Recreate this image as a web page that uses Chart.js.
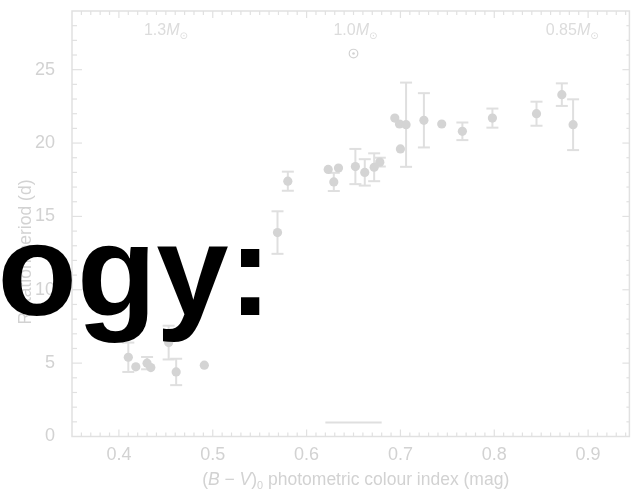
<!DOCTYPE html>
<html>
<head>
<meta charset="utf-8">
<script src="https://cdn.jsdelivr.net/npm/chart.js@4/dist/chart.umd.min.js"></script>
<style>
  html, body { margin: 0; padding: 0; background: #ffffff; }
  canvas { display: block; }
</style>
</head>
<body>
<canvas id="c" width="634" height="491"></canvas>
<script>
// (B - V)0 colour index of each star (mag)
const bvColour = [0.410, 0.418, 0.430, 0.434, 0.453, 0.461, 0.491, 0.569, 0.580,
                  0.623, 0.629, 0.634, 0.652, 0.662, 0.672, 0.678, 0.694, 0.699,
                  0.700, 0.706, 0.725, 0.744, 0.766, 0.798, 0.845, 0.872, 0.884];
// Rotation period of each star (days)
const rotationPeriod = [5.4, 4.75, 5.0, 4.7, 6.4, 4.4, 4.86, 13.9, 17.4,
                        18.2, 17.35, 18.3, 18.4, 18.0, 18.35, 18.7, 21.7, 21.3,
                        19.6, 21.25, 21.55, 21.3, 20.8, 21.7, 22.0, 23.3, 21.25];
// Symmetric uncertainty on each period (days); 0 means no bar drawn
const periodError = [1.0, 0, 0.42, 0, 1.15, 0.9, 0, 1.45, 0.65,
                     0, 0.62, 0, 1.2, 0.9, 0.95, 0.3, 0, 0,
                     0, 2.87, 1.85, 0, 0.6, 0.65, 0.82, 0.77, 1.73];

const xTickValues = [0.4, 0.5, 0.6, 0.7, 0.8, 0.9];
const yTickValues = [0, 5, 10, 15, 20, 25];

// Stellar masses marked along the top of the panel
const massLabels = ['1.3', '1.0', '0.85'];
const massColour = [0.450, 0.652, 0.883];

// The Sun
const sunColour = 0.650;
const sunPeriod = 26.1;

// Short horizontal marker near the bottom
const markerColourRange = [0.620, 0.680];
const markerPeriod = 0.95;

const headline = 'ogy:';

const FONT = '"Liberation Sans", Arial, Helvetica, sans-serif';
const POINT = '#d4d4d4';
const BAR = '#dfdfdf';
const AXIS = '#e1e1e1';
const TEXT = '#d2d2d2';

// Draw a run of text pieces (plain / italic / subscript) centred on cx
function drawRich(ctx, parts, cx, baseline, size) {
  const fontFor = p => {
    const s = p.sub ? size * 0.62 : size;
    return (p.italic ? 'italic ' : '') + s + 'px ' + FONT + ', "DejaVu Sans"';
  };
  let total = 0;
  parts.forEach(p => { ctx.font = fontFor(p); p.w = ctx.measureText(p.t).width; total += p.w; });
  let x = cx - total / 2;
  ctx.textAlign = 'left';
  ctx.textBaseline = 'alphabetic';
  parts.forEach(p => {
    ctx.font = fontFor(p);
    ctx.fillText(p.t, x, baseline + (p.sub ? size * 0.22 : 0));
    x += p.w;
  });
}

const framePlugin = {
  id: 'frame',
  beforeDatasetsDraw(chart) {
    const { ctx, chartArea: a, scales: { x, y } } = chart;
    ctx.save();
    ctx.strokeStyle = AXIS;
    ctx.lineWidth = 1.5;
    ctx.strokeRect(a.left, a.top, a.right - a.left, a.bottom - a.top);

    const seg = (x1, y1, x2, y2) => { ctx.beginPath(); ctx.moveTo(x1, y1); ctx.lineTo(x2, y2); ctx.stroke(); };

    // inward ticks on the colour axis (every 0.01, long every 0.1)
    ctx.lineWidth = 1.2;
    for (let k = 36; k <= 94; k++) {
      const px = x.getPixelForValue(k / 100);
      const len = (k % 10 === 0) ? 7 : 4;
      seg(px, a.bottom, px, a.bottom - len);
      seg(px, a.top, px, a.top + len);
    }
    // inward ticks on the period axis (every 1 d, long every 5 d)
    for (let v = 1; v <= 28; v++) {
      const py = y.getPixelForValue(v);
      const major = v % 5 === 0;
      seg(a.left, py, a.left + (major ? 10 : 5), py);
      seg(a.right, py, a.right - (major ? 7 : 3), py);
    }

    // error bars
    ctx.strokeStyle = BAR;
    ctx.lineWidth = 2;
    bvColour.forEach((bv, i) => {
      const e = periodError[i];
      if (!e) return;
      const px = x.getPixelForValue(bv);
      const top = y.getPixelForValue(rotationPeriod[i] + e);
      const bot = y.getPixelForValue(rotationPeriod[i] - e);
      seg(px, top, px, bot);
      seg(px - 6, top, px + 6, top);
      seg(px - 6, bot, px + 6, bot);
    });

    // horizontal marker
    seg(x.getPixelForValue(markerColourRange[0]), y.getPixelForValue(markerPeriod),
        x.getPixelForValue(markerColourRange[1]), y.getPixelForValue(markerPeriod));

    // the Sun
    const sx = x.getPixelForValue(sunColour), sy = y.getPixelForValue(sunPeriod);
    ctx.strokeStyle = TEXT;
    ctx.lineWidth = 1.2;
    ctx.beginPath(); ctx.arc(sx, sy, 4.3, 0, Math.PI * 2); ctx.stroke();
    ctx.fillStyle = TEXT;
    ctx.beginPath(); ctx.arc(sx, sy, 1.3, 0, Math.PI * 2); ctx.fill();

    // mass labels
    ctx.fillStyle = '#dcdcdc';
    massLabels.forEach((m, i) => {
      drawRich(ctx, [{ t: m }, { t: 'M', italic: true }, { t: '\u2299', sub: true }],
               x.getPixelForValue(massColour[i]), a.top + 24, 16);
    });

    // axis titles
    ctx.fillStyle = TEXT;
    drawRich(ctx, [{ t: '(' }, { t: 'B', italic: true }, { t: ' \u2212 ' }, { t: 'V', italic: true },
                   { t: ')' }, { t: '0', sub: true }, { t: ' photometric colour index (mag)' }],
             (a.left + a.right) / 2 + 5, 485, 17.5);
    ctx.translate(31, 252);
    ctx.rotate(-Math.PI / 2);
    drawRich(ctx, [{ t: 'Rotation period (d)' }], 0, 0, 17.5);
    ctx.restore();
  },
  afterDraw(chart) {
    const { ctx } = chart;
    ctx.save();
    ctx.fillStyle = '#000000';
    ctx.font = 'bold 130px ' + FONT;
    ctx.textAlign = 'left';
    ctx.textBaseline = 'alphabetic';
    ctx.fillText(headline, -2.5, 315);
    ctx.restore();
  }
};

new Chart(document.getElementById('c'), {
  type: 'scatter',
  data: {
    datasets: [{
      data: bvColour.map((bv, i) => ({ x: bv, y: rotationPeriod[i] })),
      backgroundColor: POINT,
      borderWidth: 0,
      pointRadius: 4.6,
      pointHoverRadius: 4.6
    }]
  },
  options: {
    responsive: false,
    devicePixelRatio: 1,
    animation: false,
    events: [],
    layout: { padding: { top: 11, right: 1, left: 0, bottom: 0 } },
    plugins: { legend: { display: false }, tooltip: { enabled: false } },
    scales: {
      x: {
        type: 'linear', min: 0.35, max: 0.944,
        grid: { display: false }, border: { display: false },
        afterBuildTicks: s => { s.ticks = xTickValues.map(v => ({ value: v })); },
        afterFit: s => { s.height = 54.5; s.paddingLeft = 0; s.paddingRight = 0; },
        ticks: { color: TEXT, font: { family: FONT, size: 18 }, padding: 0,
                 maxRotation: 0, autoSkip: false, callback: v => v.toFixed(1) }
      },
      y: {
        type: 'linear', min: 0, max: 29,
        grid: { display: false }, border: { display: false },
        afterBuildTicks: s => { s.ticks = yTickValues.map(v => ({ value: v })); },
        afterFit: s => { s.width = 72; s.paddingTop = 0; s.paddingBottom = 0; },
        ticks: { color: TEXT, font: { family: FONT, size: 18 }, padding: 9,
                 autoSkip: false, callback: v => String(v) }
      }
    }
  },
  plugins: [framePlugin]
});
</script>
</body>
</html>
